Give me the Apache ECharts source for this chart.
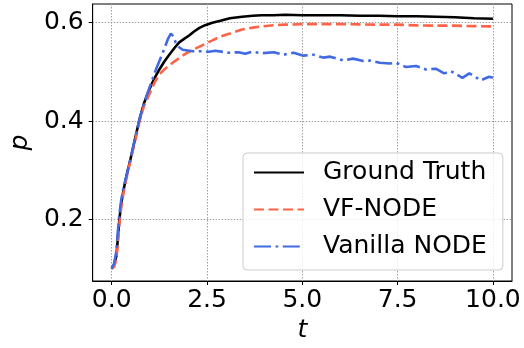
<!DOCTYPE html>
<html>
<head>
<meta charset="utf-8">
<script src="https://cdn.jsdelivr.net/npm/echarts@6/dist/echarts.min.js"></script>
<style>
  html, body { margin: 0; padding: 0; background: #fff; }
  #chart { width: 524px; height: 348px; }
</style>
</head>
<body>
<div id="chart"></div>
<script>
// values
const seriesNames = ['Ground Truth', 'VF-NODE', 'Vanilla NODE'];
const xTicks = [0, 2.5, 5, 7.5, 10];
const yTicks = [0.2, 0.4, 0.6];

const tSmooth = [0, 0.06, 0.12, 0.16, 0.2, 0.25, 0.31, 0.39, 0.47, 0.6, 0.73, 0.85, 0.99, 1.12, 1.25, 1.38, 1.51, 1.64, 1.77, 1.9, 2.03, 2.16, 2.29, 2.45, 2.64, 2.85, 3.1, 3.42, 3.7, 3.94, 4.25, 4.55, 5.0, 5.5, 6.0, 6.5, 7.0, 7.5, 8.0, 8.5, 9.0, 9.5, 10.0];
const groundTruth = [0.1, 0.108, 0.125, 0.16, 0.2, 0.232, 0.26, 0.29, 0.315, 0.36, 0.404, 0.437, 0.465, 0.487, 0.505, 0.521, 0.535, 0.548, 0.56, 0.567, 0.574, 0.582, 0.589, 0.595, 0.6, 0.604, 0.609, 0.612, 0.614, 0.615, 0.615, 0.616, 0.615, 0.615, 0.615, 0.614, 0.614, 0.613, 0.613, 0.612, 0.611, 0.609, 0.608];
const vfNode = [0.1, 0.104, 0.118, 0.15, 0.19, 0.225, 0.255, 0.285, 0.312, 0.355, 0.4, 0.432, 0.455, 0.478, 0.495, 0.505, 0.513, 0.521, 0.528, 0.535, 0.541, 0.546, 0.551, 0.557, 0.564, 0.572, 0.578, 0.586, 0.59, 0.5925, 0.595, 0.596, 0.597, 0.597, 0.597, 0.5965, 0.596, 0.596, 0.5945, 0.594, 0.594, 0.593, 0.5925];

const tVanilla = [0, 0.06, 0.12, 0.16, 0.2, 0.25, 0.31, 0.39, 0.47, 0.6, 0.73, 0.85, 0.99, 1.16, 1.34, 1.47, 1.55, 1.62, 1.68, 1.77, 1.86, 2.12, 2.38, 2.55, 2.72, 3.07, 3.33, 3.5, 3.68, 3.94, 4.25, 4.51, 4.77, 5.03, 5.29, 5.55, 5.73, 6.08, 6.33, 6.6, 6.77, 7.03, 7.29, 7.46, 7.72, 7.98, 8.24, 8.5, 8.72, 8.9, 9.2, 9.38, 9.68, 9.9, 10.0];
const vanillaNode = [0.1, 0.11, 0.135, 0.175, 0.21, 0.24, 0.265, 0.29, 0.316, 0.36, 0.404, 0.437, 0.468, 0.505, 0.539, 0.566, 0.578, 0.572, 0.559, 0.55, 0.545, 0.542, 0.542, 0.541, 0.543, 0.539, 0.54, 0.537, 0.541, 0.538, 0.54, 0.535, 0.539, 0.533, 0.535, 0.529, 0.531, 0.523, 0.527, 0.522, 0.523, 0.5185, 0.517, 0.5185, 0.51, 0.512, 0.505, 0.5065, 0.497, 0.5015, 0.488, 0.497, 0.483, 0.49, 0.488];

const zip = (xs, ys) => xs.map((x, i) => [x, ys[i]]);

const font = 'DejaVu Sans';
const chart = echarts.init(document.getElementById('chart'), null, { renderer: 'canvas' });

const gridLine = { show: true, lineStyle: { color: '#a0a0a0', width: 1, type: [1.5, 1.5] } };

const option = {
  animation: false,
  backgroundColor: '#fff',
  grid: {
    left: 89, right: 12, top: 4, bottom: 65,
    containLabel: false,
    show: true, borderColor: '#000', borderWidth: 1, backgroundColor: 'transparent'
  },
  xAxis: {
    type: 'value',
    min: -0.5, max: 10.5,
    name: 't',
    nameLocation: 'middle',
    nameGap: 37,
    nameTextStyle: { fontFamily: font, fontStyle: 'italic', fontSize: 25, color: '#000' },
    axisLine: { show: true, onZero: false, lineStyle: { color: '#000', width: 1 } },
    axisTick: { show: true, inside: false, length: 4, lineStyle: { color: '#000' }, customValues: xTicks },
    axisLabel: {
      fontFamily: font, fontSize: 25, color: '#000', margin: 7,
      customValues: xTicks,
      formatter: v => v.toFixed(1)
    },
    splitLine: gridLine
  },
  yAxis: {
    type: 'value',
    min: 0.075, max: 0.638,
    name: 'p',
    nameLocation: 'middle',
    nameRotate: 90,
    nameGap: 53,
    nameTextStyle: { fontFamily: font, fontStyle: 'italic', fontSize: 25, color: '#000' },
    axisLine: { show: true, onZero: false, lineStyle: { color: '#000', width: 1 } },
    axisTick: { show: true, inside: false, length: 4, lineStyle: { color: '#000' }, customValues: yTicks },
    axisLabel: {
      fontFamily: font, fontSize: 25, color: '#000', margin: 9,
      customValues: yTicks,
      formatter: v => v.toFixed(1)
    },
    splitLine: gridLine
  },
  legend: {
    orient: 'vertical',
    left: 243, top: 153,
    padding: [7, 16, 11, 10],
    itemWidth: 50, itemHeight: 14, itemGap: 12,
    itemStyle: { opacity: 0 },
    backgroundColor: 'rgba(255,255,255,0.8)',
    borderColor: '#cccccc', borderWidth: 1, borderRadius: 4,
    textStyle: { fontFamily: font, fontSize: 25, color: '#000', lineHeight: 25, padding: [0, 0, 0, 14] },
    data: seriesNames
  },
  series: [
    {
      name: seriesNames[0], type: 'line', symbol: 'none', z: 3,
      data: zip(tSmooth, groundTruth),
      lineStyle: { color: '#000000', width: 2.6, type: 'solid' },
      itemStyle: { color: '#000000' }
    },
    {
      name: seriesNames[1], type: 'line', symbol: 'none', z: 4,
      data: zip(tSmooth, vfNode),
      lineStyle: { color: '#ff6347', width: 2.6, type: [10, 4.5] },
      itemStyle: { color: '#ff6347' }
    },
    {
      name: seriesNames[2], type: 'line', symbol: 'none', z: 5,
      data: zip(tVanilla, vanillaNode),
      lineStyle: { color: '#4169e1', width: 2.6, type: [17, 4.5, 2.8, 4.5] },
      itemStyle: { color: '#4169e1' }
    }
  ]
};

chart.setOption(option);
</script>
</body>
</html>
